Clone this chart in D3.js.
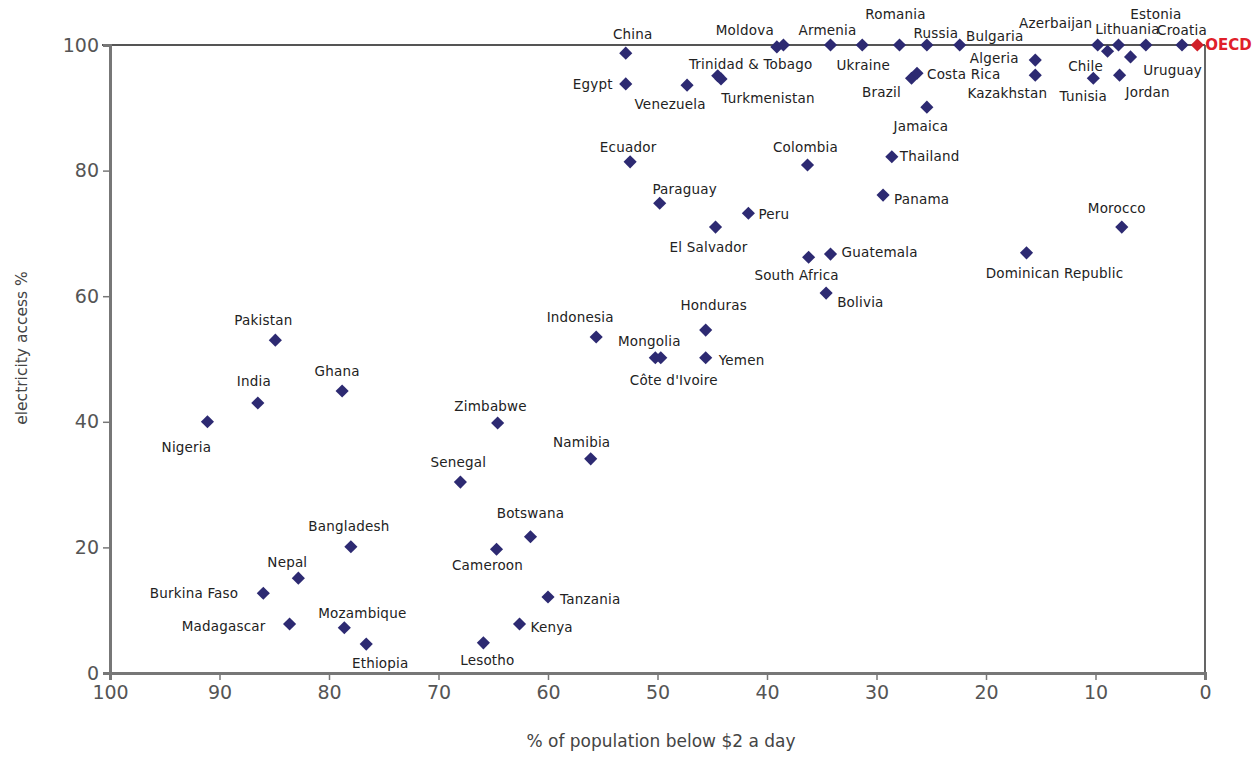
<!DOCTYPE html>
<html>
<head>
<meta charset="utf-8">
<script src="https://cdn.jsdelivr.net/npm/d3@7"></script>
<style>
  body { margin: 0; background: #fff; }
  .tick text { font-family: "DejaVu Sans", sans-serif; fill: #555; }
  .lbl { font-family: "DejaVu Sans", sans-serif; font-size: 13.5px; fill: #222; letter-spacing: 0.2px; }
</style>
</head>
<body>
<script>
// countries, % below $2 a day (x), electricity access % (y)
const countries = [
  "China", "Egypt", "Venezuela", "Trinidad & Tobago", "Turkmenistan", "Moldova", "",
  "Armenia", "Ukraine", "Romania", "Russia", "Bulgaria", "Brazil", "Costa Rica", "Jamaica",
  "Algeria", "Kazakhstan", "Azerbaijan", "Chile", "Lithuania", "Uruguay", "Jordan", "Tunisia",
  "Estonia", "Croatia", "OECD",
  "Ecuador", "Colombia", "Thailand", "Panama", "Paraguay", "Peru", "El Salvador", "Morocco",
  "South Africa", "Guatemala", "Dominican Republic", "Bolivia",
  "Pakistan", "Indonesia", "Honduras", "Mongolia", "Côte d'Ivoire", "Yemen",
  "India", "Ghana", "Nigeria", "Zimbabwe", "Namibia", "Senegal",
  "Botswana", "Bangladesh", "Cameroon", "Nepal", "Burkina Faso", "Tanzania",
  "Madagascar", "Mozambique", "Kenya", "Ethiopia", "Lesotho"
];
const below2 = [
  52.9, 52.9, 47.3, 44.5, 44.2, 39.1, 38.5,
  34.2, 31.3, 27.9, 25.4, 22.4, 26.8, 26.3, 25.4,
  15.5, 15.5, 9.8, 8.9, 7.9, 6.8, 7.8, 10.2,
  5.4, 2.1, 0.7,
  52.5, 36.3, 28.6, 29.4, 49.8, 41.7, 44.7, 7.6,
  36.2, 34.2, 16.3, 34.6,
  84.9, 55.6, 45.6, 50.2, 49.7, 45.6,
  86.5, 78.8, 91.1, 64.6, 56.1, 68.0,
  61.6, 78.0, 64.7, 82.8, 86.0, 60.0,
  83.6, 78.6, 62.6, 76.6, 65.9
];
const access = [
  98.7, 93.8, 93.6, 95.1, 94.6, 99.7, 100,
  100, 100, 100, 100, 100, 94.7, 95.5, 90.1,
  97.6, 95.2, 100, 99.0, 100, 98.1, 95.2, 94.7,
  100, 100, 100,
  81.4, 80.9, 82.2, 76.1, 74.8, 73.2, 71.0, 71.0,
  66.2, 66.7, 66.9, 60.5,
  53.0, 53.5, 54.6, 50.2, 50.2, 50.2,
  43.0, 44.9, 40.0, 39.8, 34.1, 30.4,
  21.7, 20.1, 19.7, 15.1, 12.7, 12.1,
  7.8, 7.2, 7.8, 4.6, 4.8
];
const xTicks = [100, 90, 80, 70, 60, 50, 40, 30, 20, 10, 0];
const yTicks = [0, 20, 40, 60, 80, 100];

// label placement: [dx, dy, anchor] relative to the marker
const labelAt = {
  "China": [7, -19, "middle"], "Egypt": [-13, 0, "end"], "Venezuela": [-17, 19, "middle"],
  "Trinidad & Tobago": [33, -12, "middle"], "Turkmenistan": [47, 19, "middle"],
  "Moldova": [-32, -17, "middle"], "Armenia": [-3, -15, "middle"], "Ukraine": [1, 20, "middle"],
  "Romania": [-4, -31, "middle"], "Russia": [9, -12, "middle"], "Bulgaria": [35, -9, "middle"],
  "Brazil": [-30, 14, "middle"], "Costa Rica": [10, 1, "start"], "Jamaica": [-6, 19, "middle"],
  "Algeria": [-41, -2, "middle"], "Kazakhstan": [-28, 18, "middle"], "Azerbaijan": [-42, -22, "middle"],
  "Chile": [-22, 15, "middle"], "Lithuania": [9, -16, "middle"], "Uruguay": [42, 13, "middle"],
  "Jordan": [28, 17, "middle"], "Tunisia": [-10, 18, "middle"], "Estonia": [10, -31, "middle"],
  "Croatia": [0, -15, "middle"], "OECD": [8, 0, "start"],
  "Ecuador": [-2, -15, "middle"], "Colombia": [-2, -18, "middle"], "Thailand": [8, -1, "start"],
  "Panama": [11, 4, "start"], "Paraguay": [25, -14, "middle"], "Peru": [10, 1, "start"],
  "El Salvador": [-7, 20, "middle"], "Morocco": [-5, -19, "middle"], "South Africa": [-12, 18, "middle"],
  "Guatemala": [11, -2, "start"], "Dominican Republic": [28, 20, "middle"], "Bolivia": [11, 9, "start"],
  "Pakistan": [-12, -20, "middle"], "Indonesia": [-16, -20, "middle"], "Honduras": [8, -25, "middle"],
  "Mongolia": [-6, -17, "middle"], "Côte d'Ivoire": [13, 22, "middle"], "Yemen": [13, 2, "start"],
  "India": [-4, -22, "middle"], "Ghana": [-5, -20, "middle"], "Nigeria": [-21, 25, "middle"],
  "Zimbabwe": [-7, -17, "middle"], "Namibia": [-9, -17, "middle"], "Senegal": [-2, -20, "middle"],
  "Botswana": [0, -24, "middle"], "Bangladesh": [-2, -21, "middle"], "Cameroon": [-9, 16, "middle"],
  "Nepal": [-11, -16, "middle"], "Burkina Faso": [-25, 0, "end"], "Tanzania": [12, 2, "start"],
  "Madagascar": [-24, 2, "end"], "Mozambique": [18, -15, "middle"], "Kenya": [11, 3, "start"],
  "Ethiopia": [14, 19, "middle"], "Lesotho": [4, 17, "middle"]
};

const width = 1258, height = 757;
const margin = {top: 45, right: 53, bottom: 84, left: 110};

const svg = d3.select("body").append("svg")
  .attr("width", width)
  .attr("height", height);

const x = d3.scaleLinear().domain([100, 0]).range([margin.left, width - margin.right]);
const y = d3.scaleLinear().domain([0, 100]).range([height - margin.bottom, margin.top]);

const data = countries.map((c, i) => ({name: c, x: below2[i], y: access[i]}));

// frame: top and right
svg.append("line")
  .attr("x1", x(100) - 8).attr("x2", x(0))
  .attr("y1", y(100)).attr("y2", y(100))
  .attr("stroke", "#555").attr("stroke-width", 1.8);
svg.append("line")
  .attr("x1", x(0)).attr("x2", x(0))
  .attr("y1", y(100)).attr("y2", y(0))
  .attr("stroke", "#555").attr("stroke-width", 1.8);

// axes
const gx = svg.append("g")
  .attr("transform", `translate(0,${y(0)})`)
  .call(d3.axisBottom(x).tickValues(xTicks).tickSize(7).tickPadding(6));
gx.selectAll("text").style("font-size", "19px");

const gy = svg.append("g")
  .attr("transform", `translate(${x(100)},0)`)
  .call(d3.axisLeft(y).tickValues(yTicks).tickSize(7).tickPadding(4));
gy.selectAll("text").style("font-size", "19px");

[gx, gy].forEach(g => {
  g.select(".domain").attr("stroke", "#777").attr("stroke-width", 3);
  g.selectAll(".tick line").attr("stroke", "#777").attr("stroke-width", 1.5);
});

// axis titles
svg.append("text")
  .attr("x", 661)
  .attr("y", 747)
  .attr("text-anchor", "middle")
  .style("font-family", "DejaVu Sans, sans-serif")
  .style("font-size", "17px")
  .style("fill", "#444")
  .text("% of population below $2 a day");

svg.append("text")
  .attr("transform", "translate(27,348) rotate(-90)")
  .attr("text-anchor", "middle")
  .style("font-family", "DejaVu Sans, sans-serif")
  .style("font-size", "15.5px")
  .style("fill", "#444")
  .text("electricity access %");

// markers
const diamond = d3.symbol().type(d3.symbolDiamond2).size(110);
svg.append("g").selectAll("path")
  .data(data)
  .enter().append("path")
  .attr("d", diamond)
  .attr("transform", d => `translate(${x(d.x)},${y(d.y)})`)
  .attr("fill", d => d.name === "OECD" ? "#d0202a" : "#2d2a72");

// labels
svg.append("g").selectAll("text")
  .data(data.filter(d => d.name && labelAt[d.name]))
  .enter().append("text")
  .attr("class", "lbl")
  .attr("x", d => x(d.x) + labelAt[d.name][0])
  .attr("y", d => y(d.y) + labelAt[d.name][1])
  .attr("dominant-baseline", "central")
  .attr("text-anchor", d => labelAt[d.name][2])
  .style("fill", d => d.name === "OECD" ? "#e0202a" : null)
  .style("font-weight", d => d.name === "OECD" ? "bold" : null)
  .style("font-size", d => d.name === "OECD" ? "15px" : null)
  .style("letter-spacing", d => d.name === "OECD" ? "0px" : null)
  .text(d => d.name);
</script>
</body>
</html>
